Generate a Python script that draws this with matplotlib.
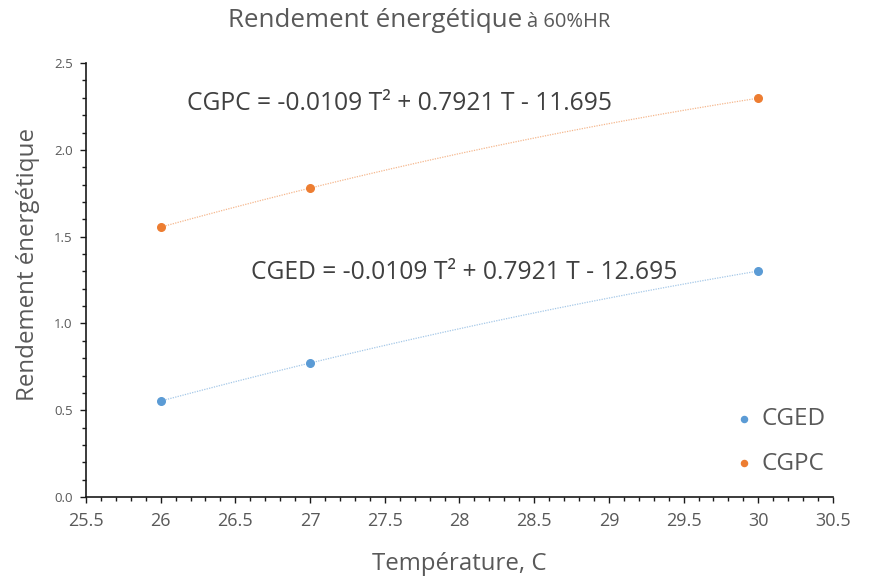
import numpy as np
import matplotlib.pyplot as plt
from matplotlib.ticker import MultipleLocator, FormatStrFormatter, FuncFormatter

# Températures (C) et rendements mesurés
temperature = [26, 27, 30]
cged = [0.553, 0.772, 1.302]
cgpc = [1.555, 1.780, 2.298]

eq_cged = "CGED = -0.0109 T² + 0.7921 T - 12.695"
eq_cgpc = "CGPC = -0.0109 T² + 0.7921 T - 11.695"

BLUE = "#5B9BD5"
ORANGE = "#ED7D31"
GREY = "#595959"

plt.rcParams["font.family"] = ["Open Sans", "DejaVu Sans"]


def main():
    fig = plt.figure(figsize=(8.71, 5.79), dpi=100)
    ax = fig.add_axes([0.0987, 0.1416, 0.8577, 0.7494])

    # courbes de tendance polynomiales (ordre 2)
    for y, c in [(cged, BLUE), (cgpc, ORANGE)]:
        p = np.polyfit(temperature, y, 2)
        t = np.linspace(min(temperature), max(temperature), 200)
        ax.plot(t, np.polyval(p, t), linestyle=(0, (1, 1)), color=c,
                linewidth=0.9, alpha=0.55, zorder=2)

    ax.scatter(temperature, cged, s=30, color=BLUE, label="CGED", zorder=3)
    ax.scatter(temperature, cgpc, s=30, color=ORANGE, label="CGPC", zorder=3)

    ax.text(27.598, 2.27, eq_cgpc, fontsize=17.7, color="#404040",
            ha="center", va="center")
    ax.text(28.033, 1.296, eq_cged, fontsize=17.7, color="#404040",
            ha="center", va="center")

    ax.set_xlim(25.5, 30.5)
    ax.set_ylim(0, 2.5)
    ax.xaxis.set_major_locator(MultipleLocator(0.5))
    ax.xaxis.set_minor_locator(MultipleLocator(0.1))
    ax.yaxis.set_major_locator(MultipleLocator(0.5))
    ax.yaxis.set_minor_locator(MultipleLocator(0.1))
    ax.xaxis.set_major_formatter(FuncFormatter(lambda v, _: f"{v:g}"))
    ax.yaxis.set_major_formatter(FormatStrFormatter("%.1f"))

    for side in ["top", "right"]:
        ax.spines[side].set_visible(False)
    for side in ["left", "bottom"]:
        ax.spines[side].set_color("#1a1a1a")
        ax.spines[side].set_linewidth(1.2)

    ax.tick_params(axis="x", which="major", length=4.5, width=1, color="#1a1a1a",
                   labelsize=13, labelcolor=GREY, pad=6)
    ax.tick_params(axis="x", which="minor", length=3, width=1, color="#1a1a1a")
    ax.tick_params(axis="y", which="major", length=4.5, width=1, color="#1a1a1a",
                   labelsize=9.5, labelcolor=GREY, pad=5)
    ax.tick_params(axis="y", which="minor", length=3, width=1, color="#1a1a1a")

    ax.set_xlabel("Température, C", fontsize=17.3, color=GREY, labelpad=16)
    ax.set_ylabel("Rendement énergétique", fontsize=17.4, color=GREY)
    ax.yaxis.set_label_coords(-0.062, 0.535)

    fig.text(0.262, 0.965, "Rendement énergétique", fontsize=18.6, color=GREY,
             ha="left", va="center")
    fig.text(0.605, 0.962, "à 60%HR", fontsize=14.5, color=GREY,
             ha="left", va="center")

    ax.legend(loc="center left", bbox_to_anchor=(0.868, 0.128), frameon=False,
              fontsize=17.5, labelcolor=GREY, borderpad=0, borderaxespad=0,
              handlelength=0.8, handletextpad=0.3, labelspacing=0.85,
              markerscale=0.8)

    fig.savefig("out.png", dpi=100)


if __name__ == "__main__":
    main()
